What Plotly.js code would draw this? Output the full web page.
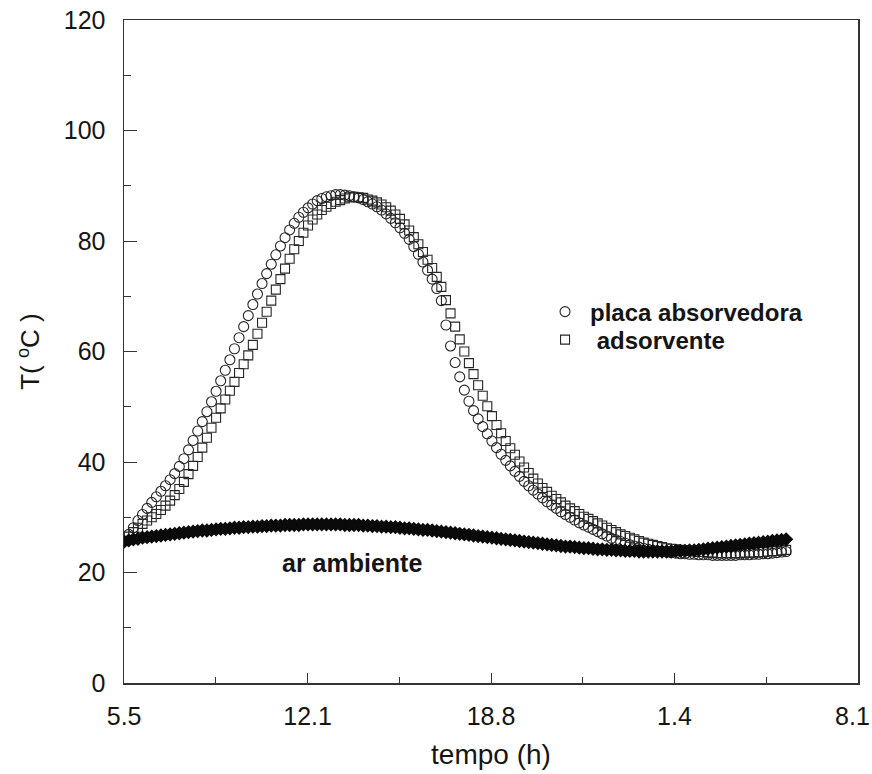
<!DOCTYPE html>
<html>
<head>
<meta charset="utf-8">
<script src="https://cdn.plot.ly/plotly-3.0.1.min.js"></script>
<style>
  html, body { margin: 0; padding: 0; background: #ffffff; }
  #grafico { width: 872px; height: 774px; }
</style>
</head>
<body>
<div id="grafico"></div>
<script>
// Eixo do tempo: horas do relogio, continuando apos a meia-noite (25.45 = 1.4 h do dia seguinte)
const tempoMarcas = [5.5, 12.15, 18.8, 25.45, 32.1];
const tempoRotulos = ['5.5', '12.1', '18.8', '1.4', '8.1'];
const tempoSecundarias = [8.825, 15.475, 22.125, 28.775];
const INICIO = 5.5;          // inicio das medicoes (h)
const PASSO = 1 / 6;         // uma leitura a cada 10 min

// Temperatura da placa absorvedora (C)
const placa = [
  25.7, 26.9, 28.1, 29.4, 30.5, 31.6, 32.7, 33.7, 34.7, 35.7,
  36.8, 37.9, 39.2, 40.6, 42.2, 43.9, 45.6, 47.3, 49.1, 50.9,
  52.8, 54.7, 56.6, 58.5, 60.5, 62.5, 64.5, 66.5, 68.5, 70.4,
  72.3, 74.1, 75.8, 77.5, 79.1, 80.6, 82.0, 83.2, 84.3, 85.2,
  86.0, 86.7, 87.3, 87.7, 88.0, 88.2, 88.4, 88.4, 88.3, 88.2,
  88.0, 87.8, 87.5, 87.1, 86.7, 86.2, 85.6, 84.9, 84.1, 83.3,
  82.4, 81.4, 80.3, 79.0, 77.6, 76.2, 74.7, 73.1, 71.4, 69.2,
  64.8, 61.0, 58.0, 55.4, 53.0, 51.0, 49.3, 47.8, 46.4, 45.1,
  43.8, 42.6, 41.4, 40.3, 39.3, 38.3, 37.4, 36.5, 35.7, 34.9,
  34.2, 33.5, 32.8, 32.2, 31.6, 31.0, 30.5, 30.0, 29.5, 29.0,
  28.6, 28.2, 27.8, 27.4, 27.0, 26.6, 26.2, 25.9, 25.6, 25.3,
  25.0, 24.8, 24.6, 24.4, 24.2, 24.0, 23.9, 23.8, 23.7, 23.6,
  23.5, 23.4, 23.4, 23.3, 23.3, 23.2, 23.2, 23.2, 23.1, 23.1,
  23.1, 23.1, 23.1, 23.1, 23.2, 23.2, 23.2, 23.3, 23.3, 23.4,
  23.4, 23.5, 23.6, 23.7, 23.8
];

// Temperatura do leito adsorvente (C)
const adsorvente = [
  25.7, 26.5, 27.3, 28.1, 28.8, 29.4, 30.0, 30.6, 31.3, 32.1,
  33.0, 34.0, 35.1, 36.4, 37.8, 39.3, 40.9, 42.6, 44.4, 46.2,
  48.0, 49.7, 51.3, 52.9, 54.5, 56.1, 57.7, 59.3, 61.2, 63.2,
  65.2, 67.2, 69.2, 71.2, 73.1, 75.0, 76.8, 78.5, 80.0, 81.5,
  82.8, 83.9, 84.8, 85.6, 86.2, 86.7, 87.1, 87.4, 87.7, 87.9,
  88.0, 87.9, 87.8, 87.5, 87.3, 87.0, 86.6, 86.1, 85.5, 84.8,
  84.0, 83.0, 81.9, 80.7, 79.4, 78.0, 76.6, 75.1, 73.5, 71.7,
  69.3, 66.9, 64.5, 62.2, 60.0, 57.9, 55.9, 53.9, 52.0, 50.1,
  48.3, 46.7, 45.2, 43.8, 42.5, 41.3, 40.1, 39.0, 38.0, 37.0,
  36.1, 35.3, 34.6, 33.9, 33.3, 32.7, 32.1, 31.6, 31.1, 30.6,
  30.1, 29.7, 29.3, 28.9, 28.5, 28.1, 27.7, 27.3, 26.9, 26.6,
  26.3, 26.0, 25.7, 25.4, 25.2, 25.0, 24.8, 24.6, 24.4, 24.3,
  24.2, 24.1, 24.0, 23.9, 23.8, 23.7, 23.7, 23.6, 23.6, 23.5,
  23.5, 23.5, 23.5, 23.5, 23.5, 23.6, 23.6, 23.6, 23.7, 23.7,
  23.8, 23.9, 23.9, 24.0, 24.1
];

// Temperatura do ar ambiente (C)
const arAmbiente = [
  25.6, 25.8, 26.0, 26.1, 26.3, 26.4, 26.5, 26.6, 26.7, 26.8,
  26.9, 27.0, 27.1, 27.2, 27.3, 27.4, 27.5, 27.6, 27.6, 27.7,
  27.8, 27.9, 27.9, 28.0, 28.1, 28.1, 28.2, 28.2, 28.3, 28.3,
  28.4, 28.4, 28.5, 28.5, 28.5, 28.6, 28.6, 28.6, 28.6, 28.7,
  28.7, 28.7, 28.7, 28.7, 28.7, 28.7, 28.7, 28.7, 28.6, 28.6,
  28.6, 28.6, 28.5, 28.5, 28.4, 28.4, 28.3, 28.3, 28.2, 28.2,
  28.1, 28.0, 28.0, 27.9, 27.8, 27.7, 27.7, 27.6, 27.5, 27.4,
  27.3, 27.2, 27.1, 27.0, 26.9, 26.8, 26.7, 26.6, 26.5, 26.4,
  26.3, 26.2, 26.1, 26.0, 25.9, 25.8, 25.7, 25.6, 25.5, 25.4,
  25.3, 25.2, 25.1, 25.0, 24.9, 24.8, 24.7, 24.7, 24.6, 24.5,
  24.4, 24.4, 24.3, 24.2, 24.2, 24.1, 24.1, 24.0, 24.0, 23.9,
  23.9, 23.9, 23.8, 23.8, 23.8, 23.8, 23.8, 23.8, 23.8, 23.8,
  23.9, 23.9, 23.9, 24.0, 24.0, 24.1, 24.2, 24.3, 24.4, 24.5,
  24.6, 24.7, 24.8, 24.9, 25.0, 25.1, 25.2, 25.3, 25.4, 25.5,
  25.6, 25.7, 25.8, 25.9, 26.0
];

// instantes de leitura (h)
const tempo = placa.map((_, i) => INICIO + i * PASSO);

const FONTE = 'Liberation Sans, Arial, sans-serif';
const TINTA = '#151515';
const TRACO = '#262626';
const FAIXA_X = [5.495, 32.105];
const ULTIMA = tempoMarcas.length - 1;

const traces = [
  {
    x: tempo, y: placa, type: 'scatter', mode: 'markers',
    name: 'placa absorvedora', legend: 'legend',
    marker: { symbol: 'circle-open', size: 10, color: TRACO, line: { width: 1.1, color: TRACO } }
  },
  {
    x: tempo, y: adsorvente, type: 'scatter', mode: 'markers',
    name: '\u00a0adsorvente', legend: 'legend2',
    marker: { symbol: 'square-open', size: 9, color: TRACO, line: { width: 1.1, color: TRACO } }
  },
  {
    // desenhada no eixo x auxiliar, que tem a mesma escala do eixo principal
    x: tempo, y: arAmbiente, type: 'scatter', mode: 'markers',
    xaxis: 'x2', yaxis: 'y',
    name: 'ar ambiente', showlegend: false,
    marker: { symbol: 'diamond', size: 11, color: '#0a0a0a', line: { width: 0 } }
  }
];

const legendaBase = {
  x: 0.5668, xanchor: 'left', yanchor: 'middle',
  itemwidth: 40,
  bgcolor: 'rgba(0,0,0,0)', borderwidth: 0,
  font: { family: FONTE, size: 24, color: TINTA, weight: 'bold' }
};

const layout = {
  width: 872, height: 774,
  paper_bgcolor: '#ffffff', plot_bgcolor: '#ffffff',
  margin: { l: 124, r: 14, t: 20, b: 91 },
  font: { family: FONTE, color: TINTA },
  showlegend: true,
  legend: Object.assign({}, legendaBase, { y: 0.5596 }),
  legend2: Object.assign({}, legendaBase, { y: 0.5173 }),
  xaxis: {
    range: FAIXA_X,
    tickmode: 'array', tickvals: tempoMarcas,
    // o ultimo rotulo fica no eixo auxiliar, alinhado a esquerda da marca
    ticktext: tempoRotulos.map((r, i) => (i === ULTIMA ? '' : r)),
    ticks: 'inside', ticklen: 10, tickwidth: 1, tickcolor: '#333',
    minor: { tickmode: 'array', tickvals: tempoSecundarias, ticks: 'inside', ticklen: 6, tickwidth: 1, tickcolor: '#333' },
    showline: true, linecolor: '#333', linewidth: 1.5, mirror: true,
    showgrid: false, zeroline: false,
    tickfont: { family: FONTE, size: 25, color: TINTA },
    ticklabelstandoff: 10,
    title: { text: 'tempo (h)', font: { family: FONTE, size: 28, color: TINTA }, standoff: 16 }
  },
  xaxis2: {
    overlaying: 'x', matches: 'x', anchor: 'y', side: 'bottom',
    range: FAIXA_X,
    tickmode: 'array', tickvals: [tempoMarcas[ULTIMA]], ticktext: [tempoRotulos[ULTIMA]],
    ticks: '', showline: false, showgrid: false, zeroline: false,
    tickfont: { family: FONTE, size: 25, color: TINTA },
    ticklabelposition: 'outside left',
    ticklabeloverflow: 'allow',
    ticklabelstandoff: 16,
    ticklabelshift: 12
  },
  yaxis: {
    range: [0, 120],
    tickmode: 'linear', tick0: 0, dtick: 20,
    ticks: 'inside', ticklen: 13, tickwidth: 1, tickcolor: '#333',
    minor: { dtick: 10, ticks: 'inside', ticklen: 7, tickwidth: 1, tickcolor: '#333' },
    showline: true, linecolor: '#333', linewidth: 1.5, mirror: true,
    showgrid: false, zeroline: false,
    tickfont: { family: FONTE, size: 25, color: TINTA },
    ticklabelstandoff: 12,
    title: { text: 'T( <sup>o</sup>C )', font: { family: FONTE, size: 26, color: TINTA }, standoff: 16 }
  },
  annotations: [
    {
      x: 13.75, y: 21.7, xref: 'x', yref: 'y',
      text: 'ar ambiente', showarrow: false,
      font: { family: FONTE, size: 25, color: TINTA, weight: 'bold' }
    }
  ]
};

Plotly.newPlot('grafico', traces, layout, { displayModeBar: false, staticPlot: true });
</script>
</body>
</html>
